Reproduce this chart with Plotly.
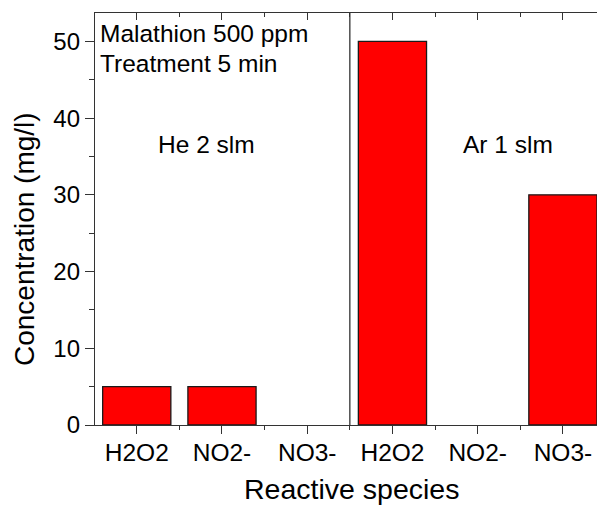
import plotly.graph_objects as go

categories = ["H2O2", "NO2-", "NO3-", "H2O2", "NO2-", "NO3-"]
positions = [1, 2, 3, 4, 5, 6]
values = [5, 5, 0, 50, 0, 30]
group_labels = ["He 2 slm", "Ar 1 slm"]
group_label_x = [1.82, 5.35]
group_label_y = 36.5
info_lines = ["Malathion 500 ppm", "Treatment 5 min"]

FONT = "Liberation Sans, Arial, sans-serif"

fig = go.Figure()
fig.add_trace(go.Bar(
    x=positions, y=values, width=0.8,
    marker=dict(color="#FF0000",
                line=dict(color="#1a1a1a", width=[1.3 if v > 0 else 0 for v in values])),
    showlegend=False, hoverinfo="skip",
))
# invisible trace to activate the mirrored top axis
fig.add_trace(go.Scatter(
    x=positions, y=values, xaxis="x2", mode="lines",
    opacity=0, showlegend=False, hoverinfo="skip",
))

xr = [0.51, 6.40]
fig.update_layout(
    width=597, height=506,
    margin=dict(l=95, r=0, t=13, b=81),
    paper_bgcolor="white", plot_bgcolor="white",
    font=dict(family=FONT, color="black"),
    bargap=0.2,
    xaxis=dict(
        range=xr, tickmode="array", tickvals=positions, ticktext=categories,
        tickangle=0, automargin=False, ticklabelstandoff=-3,
        ticks="outside", ticklen=8, tickwidth=1.3, tickcolor="#333",
        showline=True, linecolor="#333", linewidth=1.3,
        showgrid=False, zeroline=False,
        tickfont=dict(size=24.5, family=FONT, color="black"),
        minor=dict(tick0=0.5, dtick=1, ticks="outside", ticklen=4,
                   tickwidth=1.3, tickcolor="#333", showgrid=False),
    ),
    xaxis2=dict(
        range=xr, overlaying="x", side="top", tickmode="array",
        tickvals=positions, showticklabels=False,
        ticks="inside", ticklen=7, tickwidth=1.3, tickcolor="#333",
        showline=True, linecolor="#333", linewidth=1.3,
        showgrid=False, zeroline=False,
        minor=dict(tick0=0.5, dtick=1, ticks="inside", ticklen=4,
                   tickwidth=1.3, tickcolor="#333", showgrid=False),
    ),
    yaxis=dict(
        range=[0, 53.7], tickmode="linear", tick0=0, dtick=10,
        automargin=False,
        ticks="outside", ticklen=9, tickwidth=1.3, tickcolor="#333",
        showline=True, linecolor="#333", linewidth=1.3,
        showgrid=False, zeroline=False,
        tickfont=dict(size=24, family=FONT, color="black"),
        minor=dict(tick0=5, dtick=10, ticks="outside", ticklen=5,
                   tickwidth=1.3, tickcolor="#333", showgrid=False),
    ),
)

# group separator
fig.add_shape(type="line", xref="x", yref="paper", x0=3.5, x1=3.5, y0=0, y1=1,
              line=dict(color="#333", width=1.3))

# group labels
for lab, gx in zip(group_labels, group_label_x):
    fig.add_annotation(x=gx, y=group_label_y, xref="x", yref="y", text=lab,
                       showarrow=False, font=dict(size=24.5, family=FONT))

# info text
for i, line in enumerate(info_lines):
    fig.add_annotation(x=0.546, y=1.0, xref="x", yref="paper", yshift=-20 - 30 * i,
                       text=line, xanchor="left", yanchor="middle", showarrow=False,
                       font=dict(size=24.5, family=FONT))

# axis titles
fig.add_annotation(x=(24 - 95) / 502, y=(425 - 239) / 412, xref="paper", yref="paper",
                   xanchor="center", yanchor="middle",
                   text="Concentration (mg/l)", textangle=-90, showarrow=False,
                   font=dict(size=28, family=FONT))
fig.add_annotation(x=(351.7 - 95) / 502, y=(425 - 489) / 412, xref="paper", yref="paper",
                   xanchor="center", yanchor="middle",
                   text="Reactive species", showarrow=False,
                   font=dict(size=28.5, family=FONT))

fig.write_html("out.html")
